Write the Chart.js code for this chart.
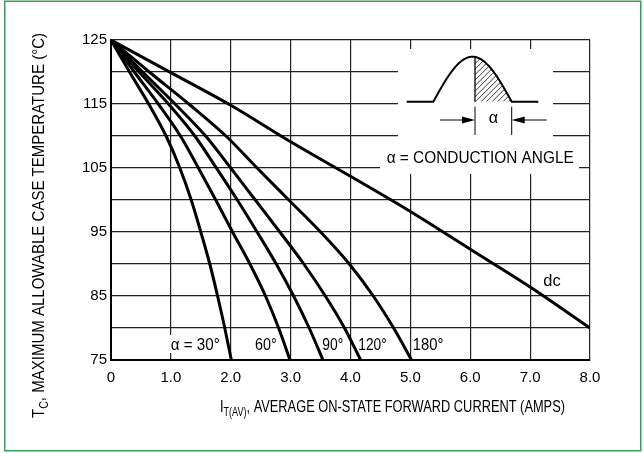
<!DOCTYPE html>
<html>
<head>
<meta charset="utf-8">
<script src="https://cdn.jsdelivr.net/npm/chart.js@4.4.1/dist/chart.umd.min.js"></script>
<style>
  html, body { margin: 0; padding: 0; background: #fff; }
  #wrap { width: 644px; height: 453px; }
</style>
</head>
<body>
<div id="wrap"><canvas id="chart" width="644" height="453"></canvas></div>
<script>
// temperature levels (°C) shared by the conduction-angle curves
const tempLevels = [125, 120, 115, 110, 105, 100, 95, 90, 85, 80, 75];
// average forward current (A) at each temperature level
const current30 = [0, 0.31, 0.63, 0.92, 1.15, 1.34, 1.50, 1.65, 1.78, 1.90, 2.01];
const current60 = [0, 0.39, 0.79, 1.16, 1.46, 1.75, 2.03, 2.32, 2.58, 2.80, 2.99];
const current90 = [0, 0.47, 0.96, 1.40, 1.76, 2.11, 2.44, 2.76, 3.05, 3.31, 3.54];
const current120 = [0, 0.53, 1.07, 1.58, 2.00, 2.41, 2.82, 3.22, 3.58, 3.90, 4.17];
const current180 = [0, 0.64, 1.30, 1.92, 2.44, 2.97, 3.50, 3.98, 4.38, 4.72, 5.02];
// dc curve
const dcCurrent = [0, 1, 2, 3, 4, 5, 6, 7, 8];
const dcTemp = [125, 119.9, 114.8, 109.1, 103.7, 98.2, 92.3, 86.4, 80];
// labelled y ticks
const yTickLabels = [75, 85, 95, 105, 115, 125];
// curve names
const angleNames = ["α = 30°", "60°", "90°", "120°", "180°"];

const FONT = '"Liberation Sans", Arial, sans-serif';

function toPoints(xs, ys) {
    return xs.map((x, i) => ({ x: x, y: ys[i] }));
}

function curve(points) {
    return {
        data: points,
        showLine: true,
        borderColor: "#000",
        borderWidth: 3,
        pointRadius: 0,
        fill: false,
        cubicInterpolationMode: "monotone",
    };
}

// draw text squeezed to a given width (the original uses a condensed face)
function fitText(ctx, parts, x, y, width) {
    let natural = 0;
    parts.forEach((p) => {
        ctx.font = p.size + "px " + FONT;
        natural += ctx.measureText(p.t).width;
    });
    const sx = width / natural;
    ctx.save();
    ctx.translate(x, y);
    ctx.scale(sx, 1);
    ctx.textAlign = "left";
    ctx.textBaseline = "alphabetic";
    let cx = 0;
    parts.forEach((p) => {
        ctx.font = p.size + "px " + FONT;
        ctx.fillText(p.t, cx, p.dy || 0);
        cx += ctx.measureText(p.t).width;
    });
    ctx.restore();
}

const decor = {
    id: "decor",
    beforeDatasetsDraw(chart) {
        const ctx = chart.ctx;
        ctx.save();
        ctx.fillStyle = "#fff";
        ctx.fillRect(398, 49, 155, 125);
        ctx.fillRect(380, 149, 199, 24);
        ctx.fillRect(166, 335, 57, 18);
        ctx.restore();
    },
    afterDatasetsDraw(chart) {
        const ctx = chart.ctx;
        ctx.save();
        ctx.fillStyle = "#000";
        ctx.strokeStyle = "#000";

        // pulse sketch
        const x0 = 433.3, x1 = 511.7, base = 101.7, amp = 45, cut = 475;
        const sineY = (x) => base - amp * Math.sin(Math.PI * (x - x0) / (x1 - x0));
        ctx.lineWidth = 2;
        ctx.beginPath();
        ctx.moveTo(406.7, base);
        ctx.lineTo(x0, base);
        for (let x = x0; x <= x1; x += 0.5) ctx.lineTo(x, sineY(x));
        ctx.lineTo(x1, base);
        ctx.lineTo(538.3, base);
        ctx.stroke();

        // hatched part
        ctx.save();
        ctx.beginPath();
        ctx.moveTo(cut, base);
        ctx.lineTo(cut, sineY(cut));
        for (let x = cut; x <= x1; x += 0.5) ctx.lineTo(x, sineY(x));
        ctx.lineTo(x1, base);
        ctx.closePath();
        ctx.clip();
        ctx.lineWidth = 0.8;
        for (let k = -60; k < 60; k += 5.5) {
            ctx.beginPath();
            ctx.moveTo(cut + k, base);
            ctx.lineTo(cut + k + 50, base - 50);
            ctx.stroke();
        }
        ctx.restore();
        ctx.lineWidth = 1.3;
        ctx.beginPath();
        ctx.moveTo(cut, sineY(cut));
        ctx.lineTo(cut, base);
        ctx.stroke();

        // dimension marks
        ctx.lineWidth = 1;
        ctx.beginPath();
        ctx.moveTo(cut, 106.7); ctx.lineTo(cut, 135);
        ctx.moveTo(x1, 106.7); ctx.lineTo(x1, 135);
        ctx.moveTo(440, 120); ctx.lineTo(cut - 12, 120);
        ctx.moveTo(546.7, 120); ctx.lineTo(x1 + 12, 120);
        ctx.stroke();
        ctx.beginPath();
        ctx.moveTo(cut, 120); ctx.lineTo(cut - 13, 116.5); ctx.lineTo(cut - 13, 123.5); ctx.closePath();
        ctx.moveTo(x1, 120); ctx.lineTo(x1 + 13, 116.5); ctx.lineTo(x1 + 13, 123.5); ctx.closePath();
        ctx.fill();

        ctx.font = "16px " + FONT;
        ctx.textAlign = "center";
        ctx.textBaseline = "middle";
        ctx.fillText("α", 493.3, 119);

        fitText(ctx, [{ t: "α = CONDUCTION ANGLE", size: 16 }], 386.7, 162.5, 187);

        // curve names
        fitText(ctx, [{ t: angleNames[0], size: 17 }], 170.7, 350, 49);
        fitText(ctx, [{ t: angleNames[1], size: 17 }], 255, 350, 21.7);
        fitText(ctx, [{ t: angleNames[2], size: 17 }], 322.3, 350, 21);
        fitText(ctx, [{ t: angleNames[3], size: 17 }], 358.3, 350, 28.4);
        fitText(ctx, [{ t: angleNames[4], size: 17 }], 412.7, 350, 30.6);
        fitText(ctx, [{ t: "dc", size: 17 }], 543.3, 286, 17.4);

        // axis titles
        fitText(ctx, [
            { t: "I", size: 17 },
            { t: "T(AV)", size: 12, dy: 4 },
            { t: ", AVERAGE ON-STATE FORWARD CURRENT (AMPS)", size: 17 },
        ], 220, 412, 345);

        ctx.save();
        ctx.translate(44, 418);
        ctx.rotate(-Math.PI / 2);
        fitText(ctx, [
            { t: "T", size: 17 },
            { t: "C", size: 12, dy: 4 },
            { t: ", MAXIMUM ALLOWABLE CASE TEMPERATURE (°C)", size: 17 },
        ], 0, 0, 385);
        ctx.restore();

        ctx.restore();
    },
    afterDraw(chart) {
        const ctx = chart.ctx;
        ctx.save();
        ctx.strokeStyle = "#3a9c5a";
        ctx.lineWidth = 1.5;
        ctx.strokeRect(4.75, 1.25, 636, 449.5);
        ctx.restore();
    },
};

const ctx = document.getElementById("chart").getContext("2d");
const chart = new Chart(ctx, {
    type: "scatter",
    data: {
        datasets: [
            curve(toPoints(current30, tempLevels)),
            curve(toPoints(current60, tempLevels)),
            curve(toPoints(current90, tempLevels)),
            curve(toPoints(current120, tempLevels)),
            curve(toPoints(current180, tempLevels)),
            curve(toPoints(dcCurrent, dcTemp)),
        ],
    },
    options: {
        responsive: false,
        animation: false,
        layout: { padding: { left: 0, top: 40, right: 54, bottom: 0 } },
        plugins: {
            legend: { display: false },
            tooltip: { enabled: false },
        },
        scales: {
            x: {
                type: "linear",
                min: 0,
                max: 8,
                ticks: {
                    stepSize: 1,
                    autoSkip: false,
                    maxRotation: 0,
                    padding: 9,
                    color: "#000",
                    font: { family: FONT, size: 15 },
                    callback: (v) => (v === 0 ? "0" : v.toFixed(1)),
                },
                grid: { color: "#222", lineWidth: 1.2, drawTicks: false },
                border: { color: "#000", width: 2 },
                afterFit: (s) => { s.height = 93; },
            },
            y: {
                min: 75,
                max: 125,
                ticks: {
                    stepSize: 5,
                    autoSkip: false,
                    padding: 4,
                    color: "#000",
                    font: { family: FONT, size: 15 },
                    callback: (v) => (yTickLabels.includes(v) ? String(v) : ""),
                },
                grid: { color: "#222", lineWidth: 1.2, drawTicks: false },
                border: { color: "#000", width: 2 },
                afterFit: (s) => { s.width = 111; },
            },
        },
    },
    plugins: [decor],
});
</script>
</body>
</html>
